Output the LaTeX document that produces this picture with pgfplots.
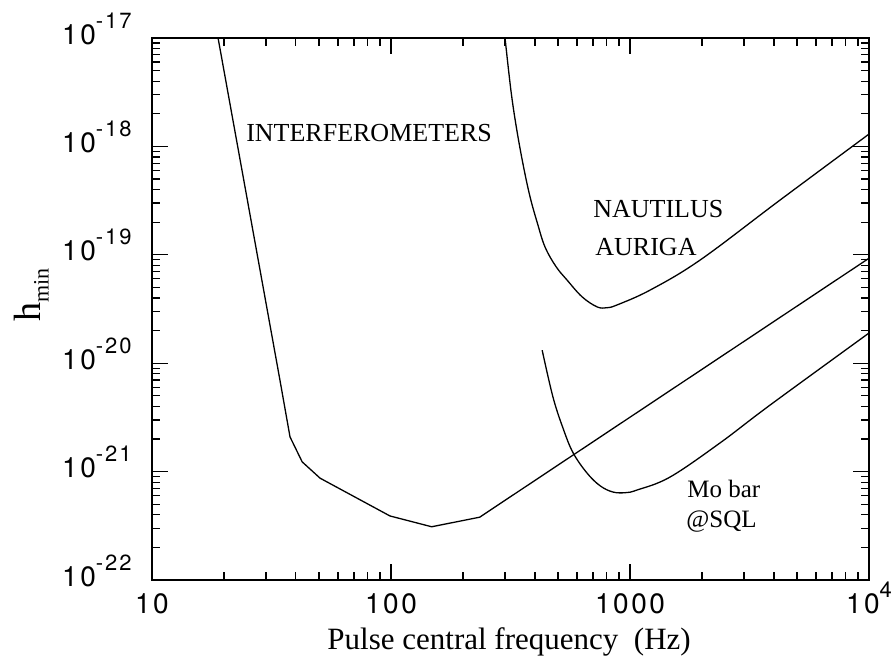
\documentclass[border=0pt]{standalone}
\usepackage{pgfplots}
\pgfplotsset{compat=1.18}
\usepackage{fontspec}
\setmainfont{Liberation Serif}
\setsansfont{TeX Gyre Heros}
\newfontfamily\tickfont[LetterSpace=9]{TeX Gyre Heros}
\newcommand{\lab}[1]{{\fontsize{14}{16}\tickfont 10\raisebox{8pt}{\fontsize{11}{12}\tickfont #1}}}
\newcommand{\plainlab}[1]{{\fontsize{14}{16}\tickfont #1}}
\begin{document}
\begin{tikzpicture}
\path[use as bounding box] (-76pt,-41pt) rectangle (370pt,290pt);
\begin{axis}[at={(0,0)}, anchor=south west, scale only axis,
  width=358.5pt, height=271pt,
  xmode=log, ymode=log, xmin=10, xmax=1e4, ymin=1e-22, ymax=1e-17,
  xtick={10,100,1000,10000},
  xticklabels={\plainlab{10},\plainlab{100},\plainlab{1000},\lab{4}},
  ytick={1e-22,1e-21,1e-20,1e-19,1e-18,1e-17},
  yticklabels={\lab{-22},\lab{-21},\lab{-20},\lab{-19},\lab{-18},\lab{-17}},
  major tick length=8pt, minor tick length=4pt,
  every tick/.style={black, line width=0.6pt},
  axis line style={line width=0.9pt},
  xticklabel style={anchor=base, inner sep=0pt, yshift=-16.5pt},
  yticklabel style={anchor=base east, inner sep=0pt, xshift=-10pt, yshift=-3pt},
  xlabel={\fontsize{15.5}{17}\selectfont Pulse central frequency\ \ (Hz)},
  xlabel style={at={(axis description cs:0.498,-0.129)}, anchor=base, inner sep=0pt},
  ylabel={\fontsize{19}{20}\selectfont h\raisebox{-4pt}{\fontsize{11}{12}\selectfont min}},
  ylabel style={at={(axis description cs:-0.168,0.526)}, anchor=center, inner sep=0pt},
  clip=true,
]
% Interferometers
\addplot[black, line width=0.65pt] coordinates {
 (18.9,1e-17) (34.3,7.0e-21) (37.8,2.09e-21) (42.5,1.23e-21) (50.5,8.7e-22)
 (99,3.9e-22) (148,3.1e-22) (235,3.8e-22) (10000,9.3e-20)};
% NAUTILUS / AURIGA
\addplot[black, line width=0.65pt, smooth, tension=0.6] coordinates {
 (300,1e-17) (318,3.2e-18) (336,1.42e-18) (358,6.6e-19) (382,3.41e-19) (410,1.95e-19) (441,1.18e-19)
 (490,7.8e-20) (545,5.86e-20) (630,4.1e-20) (728,3.31e-20) (800,3.25e-20) (883,3.45e-20) (1214,4.73e-20)
 (1965,8.95e-20) (4244,3.2e-19) (10000,1.30e-18)};
% Mo bar @SQL
\addplot[black, line width=0.65pt, smooth, tension=0.6] coordinates {
 (429,1.32e-20) (476,4.88e-21) (525,2.5e-21) (578,1.49e-21) (661,9.7e-22) (750,7.4e-22) (849,6.48e-22)
 (960,6.4e-22) (1069,6.76e-22) (1469,8.9e-22) (2381,1.84e-21) (3855,4.11e-21) (10000,1.90e-20)};
\node[anchor=base west, inner sep=0pt, font=\fontsize{13}{15}\selectfont] at (axis cs:24.7,1.1e-18) {INTERFEROMETERS};
\node[anchor=base west, inner sep=0pt, font=\fontsize{13}{15}\selectfont] at (axis cs:700,2.23e-19) {NAUTILUS};
\node[anchor=base west, inner sep=0pt, font=\fontsize{13}{15}\selectfont] at (axis cs:714,9.95e-20) {AURIGA};
\node[anchor=base west, inner sep=0pt, font=\fontsize{12.5}{14}\selectfont] at (axis cs:1730,5.83e-22) {Mo bar};
\node[anchor=base west, inner sep=0pt, font=\fontsize{12.5}{14}\selectfont] at (axis cs:1714,3.08e-22) {@SQL};
\end{axis}
\end{tikzpicture}
\end{document}
